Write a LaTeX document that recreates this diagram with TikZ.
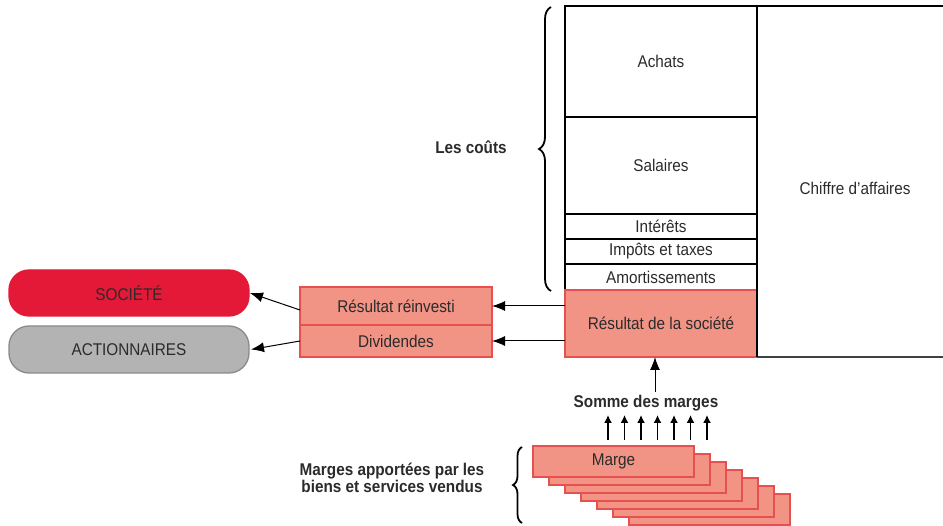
\documentclass[tikz,border=0pt]{standalone}
\usepackage{fontspec}
\setmainfont{Liberation Sans}[FakeStretch=0.9]
\usetikzlibrary{arrows.meta,decorations.pathreplacing,calc}
\definecolor{pinkfill}{HTML}{F19385}
\definecolor{pinkline}{HTML}{E8504F}
\definecolor{socred}{HTML}{E31937}
\definecolor{grayfill}{HTML}{B3B3B3}
\definecolor{grayline}{HTML}{8A8A8A}
\definecolor{txt}{HTML}{2B2B2B}
\tikzset{
  cell/.style={draw=black, line width=1.3pt, inner sep=0pt, outer sep=0pt, anchor=north west,
    font=\fontsize{17}{19}\selectfont, text=txt, minimum width=192pt},
  pinkcell/.style={cell, draw=pinkline, fill=pinkfill},
  rounded/.style={rounded corners=20pt, line width=1.3pt, inner sep=0pt, outer sep=0pt, anchor=north west,
    minimum width=240pt, font=\fontsize{17}{19}\selectfont, text=txt},
  margebox/.style={draw=pinkline, fill=pinkfill, line width=1.3pt, inner sep=0pt, outer sep=0pt,
    anchor=north west, minimum width=161pt, minimum height=31pt, font=\fontsize{17}{19}\selectfont, text=txt},
  boldlabel/.style={font=\bfseries\fontsize{17}{14.5}\selectfont, text=txt, align=center, inner sep=0pt},
  arr/.style={-{Latex[length=13pt,width=10pt]}, line width=1pt, black},
  sarr/.style={-{Latex[length=8pt,width=8pt]}, line width=1.5pt, black},
  bigbrace/.style={decorate, decoration={brace, amplitude=#1}, line width=1.8pt, black},
}
\begin{document}
\begin{tikzpicture}[x=1pt,y=-1pt]
\useasboundingbox (0,0) rectangle (943,526);

% cost column
\node[cell, minimum height=111pt] (achats) at (565,6) {Achats};
\node[cell, minimum height=97pt] (salaires) at (565,117) {Salaires};
\node[cell, minimum height=25pt] (interets) at (565,214) {Intérêts};
\node[cell, minimum height=25pt] (impots) at (565,239) {Impôts et taxes};
\node[cell, minimum height=26pt] (amort) at (565,264) {Amortissements};
\node[pinkcell, minimum height=67pt] (resultat) at (565,290) {Résultat de la société};

% chiffre d'affaires
\draw[black, line width=1.3pt] (achats.north east) -- (943,6);
\draw[black!75, line width=1.6pt] (resultat.south east) -- (943,357);
\draw[black, line width=1.3pt] (achats.north east) -- (resultat.south east);
\node[font=\fontsize{17}{19}\selectfont, text=txt] (ca) at (855,188) {Chiffre d’affaires};

% brace les couts
\draw[bigbrace=12pt] (551,291) -- (551,7);
\node[boldlabel] (couts) at (471,147) {Les coûts};

% result split
\node[pinkcell, minimum height=38pt] (reinv) at (300,287) {Résultat réinvesti};
\node[pinkcell, minimum height=32pt] (divid) at (300,325) {Dividendes};

% destinations
\node[rounded, draw=socred, fill=socred, minimum height=46pt] (societe) at (9,270) {SOCIÉTÉ};
\node[rounded, draw=grayline, fill=grayfill, minimum height=47pt] (action) at (9,326) {ACTIONNAIRES};

\draw[arr] (resultat.west |- reinv.east) -- (reinv.east);
\draw[arr] (resultat.west |- divid.east) -- (divid.east);
\draw[arr] ([yshift=-4pt]reinv.west) -- ([xshift=1pt]societe.east);
\draw[arr] (divid.west) -- ([xshift=2pt]action.east);

% marges
\foreach \i in {6,5,...,1}{
  \node[margebox] (m\i) at ({533+16*\i},{446+8*\i}) {};
}
\node[margebox] (m0) at (533,446) {Marge};

\node[boldlabel] (somme) at (646,403) {Somme des marges};
\coordinate (sumtop) at (655,392);
\draw[arr] (sumtop) -- (sumtop |- resultat.south);

\foreach \i in {0,...,6}{
  \coordinate (sa\i) at ({608+16.5*\i},440);
  \coordinate (sb\i) at ({608+16.5*\i},415);
  \draw[sarr] (sa\i) -- (sb\i);
}

\draw[bigbrace=9pt] (522,523) -- (522,447);
\node[boldlabel] (margestxt) at (392,478) {Marges apportées par les\\biens et services vendus};
\end{tikzpicture}
\end{document}
